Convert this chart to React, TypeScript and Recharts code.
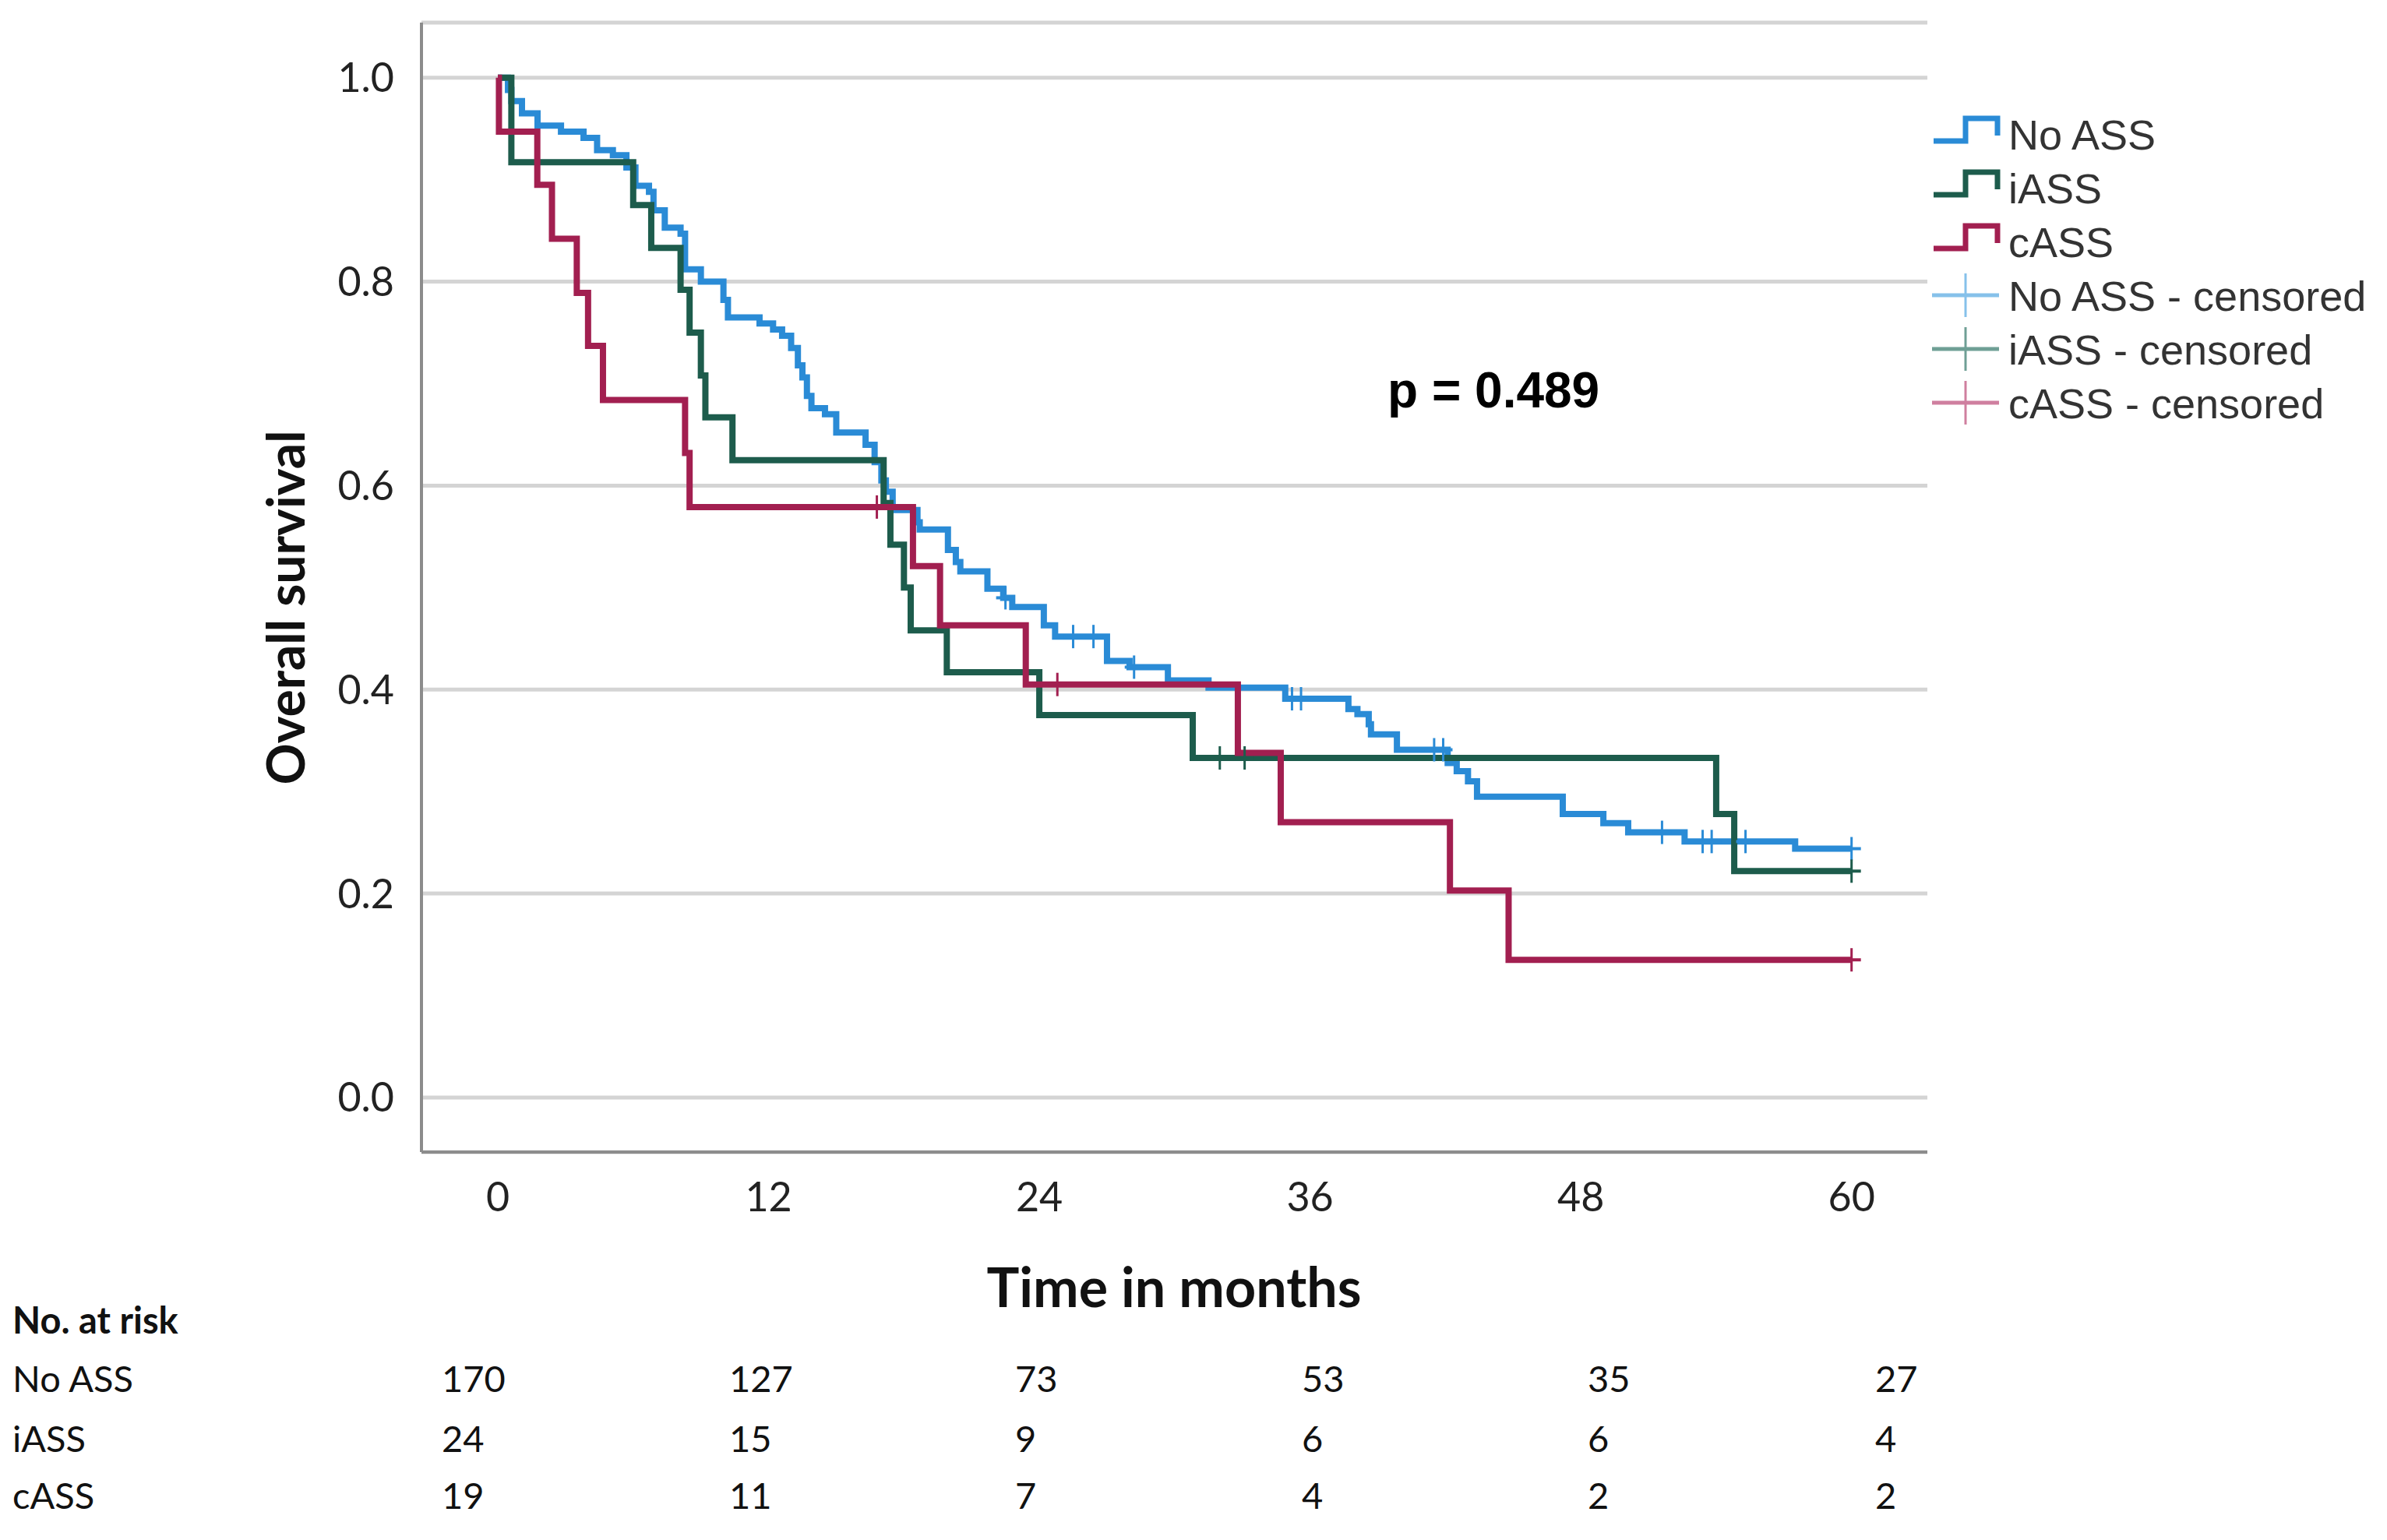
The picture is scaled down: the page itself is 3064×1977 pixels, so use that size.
import { ComposedChart, Line, Scatter, XAxis, YAxis, CartesianGrid, Label } from 'recharts'

// tick values
const months = [0, 12, 24, 36, 48, 60]
const survivalTicks = [0, 0.2, 0.4, 0.6, 0.8, 1.0]

// Kaplan-Meier steps (time in months, survival after each event)
const noAssTimes = [0, 0.45, 0.6, 1.07, 1.76, 2.8, 3.8, 4.4, 5.1, 5.7, 6.1, 6.7, 6.9, 7.4, 8.1, 8.3, 9.0, 10.0, 10.2, 11.6, 12.2, 12.6, 13.0, 13.3, 13.5, 13.7, 13.9, 14.5, 15.0, 16.3, 16.7, 17.0, 17.2, 17.5, 18.6, 18.7, 19.95, 20.3, 20.5, 21.7, 22.4, 22.8, 24.2, 24.7, 27.0, 28.0, 29.7, 31.5, 34.9, 37.7, 38.1, 38.6, 38.7, 39.85, 42.1, 42.5, 43.0, 43.4, 47.2, 49.0, 50.1, 52.6, 57.5, 60]
const noAssSurv = [1, 0.988, 0.977, 0.965, 0.953, 0.947, 0.941, 0.929, 0.924, 0.912, 0.894, 0.888, 0.87, 0.853, 0.847, 0.812, 0.8, 0.782, 0.765, 0.759, 0.753, 0.747, 0.735, 0.718, 0.706, 0.688, 0.676, 0.67, 0.652, 0.64, 0.623, 0.605, 0.594, 0.576, 0.564, 0.557, 0.537, 0.525, 0.516, 0.499, 0.49, 0.481, 0.463, 0.452, 0.428, 0.422, 0.409, 0.402, 0.391, 0.381, 0.376, 0.366, 0.356, 0.341, 0.328, 0.32, 0.31, 0.295, 0.278, 0.269, 0.26, 0.251, 0.244, 0.244]
const noAssCensored = [22.5, 25.5, 26.4, 28.2, 35.2, 35.6, 41.5, 41.9, 51.6, 53.4, 53.8, 55.3, 60]

const iAssTimes = [0, 0.6, 6.0, 6.8, 8.1, 8.5, 9.0, 9.2, 10.4, 17.1, 17.4, 18.0, 18.3, 19.9, 24.0, 30.8, 54.0, 54.8, 60]
const iAssSurv = [1, 0.917, 0.875, 0.833, 0.792, 0.75, 0.708, 0.667, 0.625, 0.583, 0.542, 0.5, 0.458, 0.417, 0.375, 0.333, 0.278, 0.222, 0.222]
const iAssCensored = [32.0, 33.1, 60]

const cAssTimes = [0, 0.05, 1.75, 2.4, 3.5, 4.0, 4.66, 8.3, 8.5, 18.4, 19.6, 23.4, 32.8, 34.7, 42.2, 44.8, 60]
const cAssSurv = [1, 0.947, 0.895, 0.842, 0.789, 0.737, 0.684, 0.632, 0.579, 0.521, 0.463, 0.405, 0.338, 0.27, 0.203, 0.135, 0.135]
const cAssCensored = [16.8, 24.8, 60]

// number at risk table
const riskGroups = ['No ASS', 'iASS', 'cASS']
const atRiskNoAss = [170, 127, 73, 53, 35, 27]
const atRiskIAss = [24, 15, 9, 6, 6, 4]
const atRiskCAss = [19, 11, 7, 4, 2, 2]

const legendLabels = ['No ASS', 'iASS', 'cASS', 'No ASS - censored', 'iASS - censored', 'cASS - censored']
const COLORS = ['#2a8bd6', '#1d5c4c', '#a21f50']
const CENSOR_COLORS = ['#86c1ea', '#6f9f95', '#cf7f9f']

const W = 3064
const H = 1977

function survivalAt(times: number[], surv: number[], t: number) {
  let v = surv[0]
  for (let i = 0; i < times.length; i++) if (times[i] <= t) v = surv[i]
  return v
}

const toSteps = (times: number[], surv: number[]) => times.map((t, i) => ({ t, s: surv[i] }))
const toCensor = (c: number[], times: number[], surv: number[]) => c.map((t) => ({ t, s: survivalAt(times, surv, t) }))

const series = [
  { name: 'No ASS', steps: toSteps(noAssTimes, noAssSurv), censor: toCensor(noAssCensored, noAssTimes, noAssSurv) },
  { name: 'iASS', steps: toSteps(iAssTimes, iAssSurv), censor: toCensor(iAssCensored, iAssTimes, iAssSurv) },
  { name: 'cASS', steps: toSteps(cAssTimes, cAssSurv), censor: toCensor(cAssCensored, cAssTimes, cAssSurv) },
]

const riskRows = [atRiskNoAss, atRiskIAss, atRiskCAss]
const riskCols = [567, 936, 1303, 1671, 2038, 2407]

const censorShape = (color: string) => (props: any) => {
  const { cx, cy } = props
  return (
    <g>
      <line x1={cx} y1={cy - 15} x2={cx} y2={cy + 15} stroke={color} strokeWidth={3} />
      <line x1={cx - 12} y1={cy} x2={cx + 12} y2={cy} stroke={color} strokeWidth={4} />
    </g>
  )
}

export default function App() {
  return (
    <div style={{ position: 'absolute', left: 0, top: 0, width: W, height: H, background: '#fff' }}>
      <ComposedChart width={W} height={H} margin={{ top: 29, right: 590, bottom: 398, left: 341 }}>
        <CartesianGrid vertical={false} stroke="#d4d4d4" strokeWidth={5} />
        <XAxis
          dataKey="t"
          type="number"
          domain={[-3.384, 63.36]}
          ticks={months}
          allowDataOverflow
          height={100}
          axisLine={{ stroke: '#8c8c8c', strokeWidth: 4 }}
          tickLine={false}
          tickSize={0}
          tickMargin={39}
          tick={{ fill: '#222', fontSize: 52, fontFamily: 'Lato' }}
        >
          <Label
            content={() => (
              <text x={1507} y={1653 + 25} textAnchor="middle" fontFamily="Lato" fontWeight={700} fontSize={70} fill="#111">
                Time in months
              </text>
            )}
          />
        </XAxis>
        <YAxis
          type="number"
          domain={[-0.0535, 1.054]}
          ticks={survivalTicks}
          allowDataOverflow
          width={200}
          axisLine={{ stroke: '#8c8c8c', strokeWidth: 4 }}
          tickLine={false}
          tickSize={0}
          tickMargin={35}
          tickFormatter={(v: number) => v.toFixed(1)}
          tick={{ fill: '#222', fontSize: 52, fontFamily: 'Lato' }}
        >
          <Label
            content={() => (
              <text
                x={365}
                y={780}
                transform="rotate(-90 365 780)"
                textAnchor="middle"
                dominantBaseline="central"
                fontFamily="Lato"
                fontWeight={700}
                fontSize={66}
                fill="#111"
              >
                Overall survival
              </text>
            )}
          />
        </YAxis>
        {series.map((g, i) => (
          <Line
            key={g.name}
            data={g.steps}
            dataKey="s"
            type="stepAfter"
            stroke={COLORS[i]}
            strokeWidth={8}
            dot={false}
            activeDot={false}
            isAnimationActive={false}
          />
        ))}
        {series.map((g, i) => (
          <Scatter
            key={g.name + '-c'}
            data={g.censor}
            dataKey="s"
            shape={censorShape(COLORS[i])}
            isAnimationActive={false}
          />
        ))}
      </ComposedChart>

      <svg width={W} height={H} style={{ position: 'absolute', left: 0, top: 0, pointerEvents: 'none' }}>
        {/* p value */}
        <text x={1781} y={500 + 23} fontFamily="Liberation Sans" fontWeight={700} fontSize={64} fill="#000">
          p = 0.489
        </text>

        {/* legend */}
        {legendLabels.map((lab, i) => {
          const cy = 172 + i * 69
          const censored = i >= 3
          const col = censored ? CENSOR_COLORS[i - 3] : COLORS[i]
          return (
            <g key={lab}>
              {censored ? (
                <g>
                  <line x1={2480} y1={cy} x2={2566} y2={cy} stroke={col} strokeWidth={5} />
                  <line x1={2523} y1={cy - 28} x2={2523} y2={cy + 28} stroke={col} strokeWidth={3} />
                </g>
              ) : (
                <polyline
                  points={`2482,${cy + 9} 2523,${cy + 9} 2523,${cy - 20} 2564,${cy - 20} 2564,${cy + 2}`}
                  fill="none"
                  stroke={col}
                  strokeWidth={7}
                />
              )}
              <text x={2578} y={cy + 20} fontFamily="Liberation Sans" fontSize={54} fill="#333">
                {lab}
              </text>
            </g>
          )
        })}

        {/* number at risk */}
        <text x={16} y={1695 + 17} fontFamily="Lato" fontWeight={700} fontSize={47} fill="#111">
          No. at risk
        </text>
        {riskGroups.map((name, r) => {
          const cy = [1770, 1847, 1920][r]
          return (
            <g key={name}>
              <text x={16} y={cy + 17} fontFamily="Lato" fontSize={47} fill="#111">
                {name}
              </text>
              {riskRows[r].map((n, c) => (
                <text key={c} x={riskCols[c]} y={cy + 17} fontFamily="Lato" fontSize={47} fill="#111">
                  {n}
                </text>
              ))}
            </g>
          )
        })}
      </svg>
    </div>
  )
}
